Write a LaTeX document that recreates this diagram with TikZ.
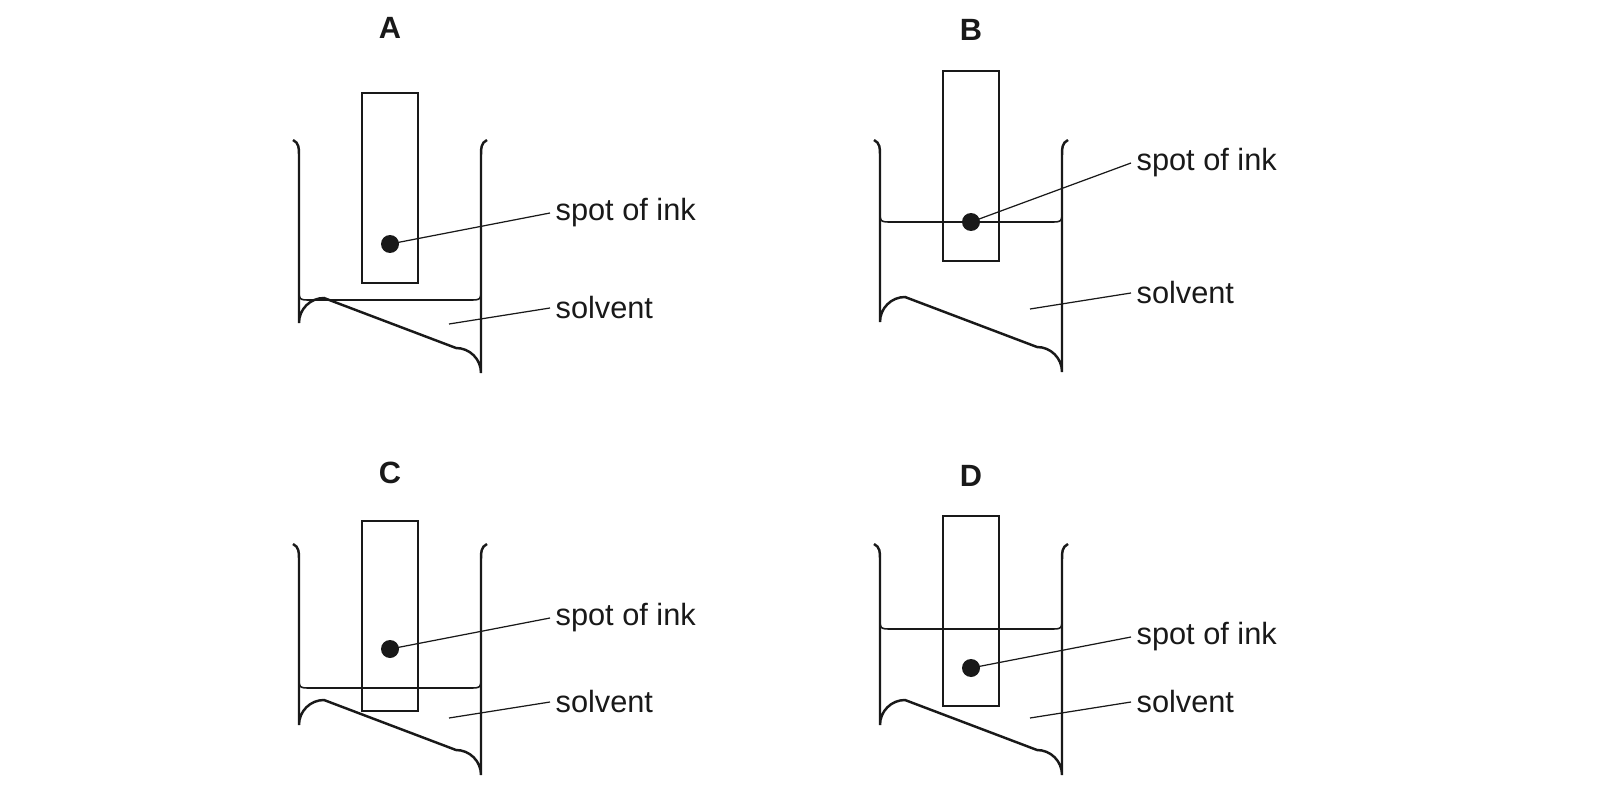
\documentclass[tikz,border=0pt]{standalone}
\usepackage{fontspec}
\setmainfont{Liberation Sans}
\usetikzlibrary{positioning}

% #1 name, #2 left wall x, #3 top y, #4 bottom y, #5 solvent level y, #6 strip top y
% #7 spot y, #8 label y of spot, #9 label y of solvent
\newcommand\beaker[9]{
  \draw[wall] (#2-6,#3) .. controls (#2,#3+3) and (#2,#3+8) .. (#2,#3+15)
    -- (#2,#4-25) arc[start angle=180,end angle=270,radius=25]
    -- (#2+157,#4) arc[start angle=270,end angle=360,radius=25]
    -- (#2+182,#3+15) .. controls (#2+182,#3+8) and (#2+182,#3+3) .. (#2+188,#3);
  \draw[level] (#2,#5-12) .. controls (#2,#5) .. (#2+12,#5)
    -- (#2+170,#5) .. controls (#2+182,#5) .. (#2+182,#5-12);
  \draw[wall] (#2+63,#6) rectangle (#2+119,#6+190);
  \node[spot] (#1spot) at (#2+91,#7) {};
  \node[lbl] (#1ink) at (#2+251,#8) {spot of ink};
  \node[lbl] (#1sol) at (#2+251,#9) {solvent};
  \coordinate (#1in) at (#2+150,#9+16);
  \draw[leader] (#1spot.center) -- (#1ink.west);
  \draw[leader] (#1in) -- (#1sol.west);
}

\begin{document}
\begin{tikzpicture}[x=0.02cm,y=-0.02cm,
  wall/.style={line width=1.4pt,black!90},
  level/.style={line width=0.9pt,black!90},
  leader/.style={line width=0.7pt,black!90},
  spot/.style={circle,fill=black!90,inner sep=0pt,minimum size=0.36cm},
  lbl/.style={anchor=west,inner sep=3pt,font=\fontsize{17.5}{20}\selectfont,text=black!90},
  title/.style={font=\fontsize{17.5}{20}\selectfont\bfseries,text=black!90}]
\useasboundingbox (0,0) rectangle (1605,787);

\node[title] (tA) at (390,28) {A};
\node[title] (tB) at (971,30) {B};
\node[title] (tC) at (390,473) {C};
\node[title] (tD) at (971,476) {D};

\beaker{A}{299}{140}{348}{300}{93}{244}{213}{308}
\beaker{B}{880}{140}{347}{222}{71}{222}{163}{293}
\beaker{C}{299}{544}{750}{688}{521}{649}{618}{702}
\beaker{D}{880}{544}{750}{629}{516}{668}{637}{702}
\end{tikzpicture}
\end{document}
